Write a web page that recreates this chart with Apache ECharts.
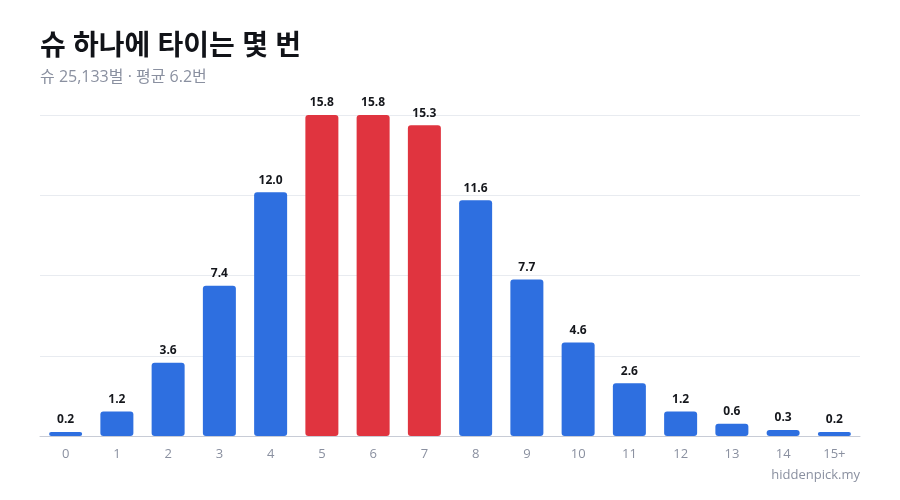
<!DOCTYPE html>
<html><head><meta charset="utf-8">
<script src="https://cdn.jsdelivr.net/npm/echarts@6/dist/echarts.min.js"></script>
<style>html,body{margin:0;padding:0;background:#fff}#c{width:900px;height:500px}</style>
</head><body><div id="c"></div>
<script>
const categories = ['0','1','2','3','4','5','6','7','8','9','10','11','12','13','14','15+'];
const values = [0.2,1.2,3.6,7.4,12.0,15.8,15.8,15.3,11.6,7.7,4.6,2.6,1.2,0.6,0.3,0.2];
const highlighted = ['5','6','7'];
const titleText = '슈 하나에 타이는 몇 번';
const subtitleText = '슈 25,133벌 · 평균 6.2번';
const sourceText = 'hiddenpick.my';
const BLUE = '#2E6FE0', RED = '#E0343F';
const FONT = '"Open Sans","Noto Sans CJK KR",sans-serif';
const chart = echarts.init(document.getElementById('c'));
chart.setOption({
  backgroundColor:'#fff',
  animation:false,
  textStyle:{fontFamily:FONT},
  title:[
    {text:titleText,left:35,top:28,textStyle:{fontSize:28,fontWeight:'bold',color:'#111318',fontFamily:FONT}},
    {text:subtitleText,left:35,top:64,textStyle:{fontSize:16,fontWeight:'normal',color:'#8a90a0',fontFamily:FONT}},
    {text:sourceText,right:35,top:464,textStyle:{fontSize:13,fontWeight:'normal',color:'#8a90a0',fontFamily:FONT}}
  ],
  grid:{left:40,right:40,top:115,bottom:64,containLabel:false},
  xAxis:{type:'category',data:categories,
    axisLine:{lineStyle:{color:'#c8ccd6'}},axisTick:{show:false},
    axisLabel:{color:'#8a90a0',fontSize:13,margin:12,fontFamily:FONT}},
  yAxis:{type:'value',min:0,max:15.8,interval:3.95,
    axisLabel:{show:false},axisLine:{show:false},axisTick:{show:false},
    splitLine:{lineStyle:{color:'#e8ebf0'}}},
  series:[{type:'bar',barWidth:33,
    data:values.map((v,i)=>({value:v,itemStyle:{color:highlighted.includes(categories[i])?RED:BLUE}})),
    itemStyle:{borderRadius:[3,3,3,3]},
    label:{show:true,position:'top',distance:6,color:'#15171c',fontSize:12,fontWeight:'bold',fontFamily:FONT,
      formatter:p=>p.value.toFixed(1)}}]
});
</script></body></html>
